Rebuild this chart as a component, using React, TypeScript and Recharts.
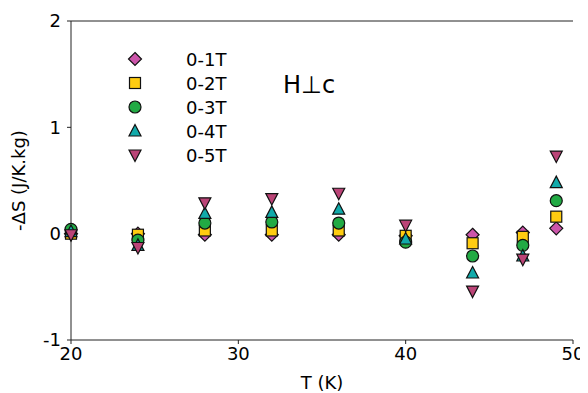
import React from 'react';
import { ScatterChart, Scatter, XAxis, YAxis, ReferenceLine } from 'recharts';

const temps = [20, 24, 28, 32, 36, 40, 44, 47, 49];
const s01 = [0.0, 0.0, -0.01, -0.01, -0.01, -0.02, -0.01, 0.01, 0.05];
const s02 = [0.0, -0.01, 0.03, 0.03, 0.03, -0.02, -0.09, -0.03, 0.16];
const s03 = [0.04, -0.06, 0.1, 0.11, 0.1, -0.08, -0.21, -0.11, 0.31];
const s04 = [0.02, -0.11, 0.19, 0.2, 0.23, -0.05, -0.37, -0.21, 0.48];
const s05 = [-0.01, -0.13, 0.29, 0.33, 0.38, 0.08, -0.54, -0.24, 0.73];
const xTicks = [20, 30, 40, 50];
const yTicks = [-1, 0, 1, 2];

const series = [
  { name: '0-1T', values: s01, kind: 'diamond', color: '#cc55aa' },
  { name: '0-2T', values: s02, kind: 'square', color: '#ffcc11' },
  { name: '0-3T', values: s03, kind: 'circle', color: '#22aa44' },
  { name: '0-4T', values: s04, kind: 'up', color: '#11aaaa' },
  { name: '0-5T', values: s05, kind: 'down', color: '#bb4477' },
];

const font = '"DejaVu Sans", sans-serif';

function Marker({ kind, x, y, fill }: { kind: string; x: number; y: number; fill: string }) {
  const common = { fill, stroke: '#111', strokeWidth: 1.2 };
  if (kind === 'diamond') {
    const r = 6.5;
    return <polygon points={`${x},${y - r} ${x + r},${y} ${x},${y + r} ${x - r},${y}`} {...common} />;
  }
  if (kind === 'square') {
    return <rect x={x - 5.5} y={y - 5.5} width={11} height={11} {...common} />;
  }
  if (kind === 'circle') {
    return <circle cx={x} cy={y} r={6} {...common} />;
  }
  if (kind === 'up') {
    return <polygon points={`${x},${y - 6.5} ${x + 6},${y + 5} ${x - 6},${y + 5}`} {...common} />;
  }
  return <polygon points={`${x},${y + 6.5} ${x + 6},${y - 5} ${x - 6},${y - 5}`} {...common} />;
}

const makeShape = (kind: string, color: string) => (props: any) =>
  <Marker kind={kind} x={props.cx} y={props.cy} fill={color} />;

// legend drawn by hand, matplotlib style (no frame)
function LegendBox() {
  return <g>
      {series.map((s, i) => <g key={s.name}>
          <Marker kind={s.kind} x={127} y={51 + i * 24} fill={s.color} />
          <text x={178} y={51 + i * 24} dominantBaseline="central" fontSize={18} fontFamily={font} fill="#000">{s.name}</text>
        </g>)}
    </g>;
}

export default function App() {
  return <ScatterChart width={580} height={385} margin={{
    top: 13,
    right: 15,
    left: 0,
    bottom: 0
  }} style={{ fontFamily: font }}>
      <XAxis type="number" dataKey="x" domain={[20, 50]} ticks={xTicks} height={53} stroke="#222" tickSize={4} tickMargin={3} tick={{
      fill: '#000',
      fontSize: 18
    }} label={{
      value: 'T (K)',
      position: 'insideBottom',
      offset: 4,
      fill: '#000',
      fontSize: 18
    }} />
      <YAxis type="number" dataKey="y" domain={[-1, 2]} ticks={yTicks} width={63} stroke="#222" tickSize={4} tickMargin={6} tick={{
      fill: '#000',
      fontSize: 18
    }} label={{
      value: '-ΔS (J/K.kg)',
      angle: -90,
      position: 'insideLeft',
      offset: 11,
      fill: '#000',
      fontSize: 18,
      style: { textAnchor: 'middle' }
    }} />
      <YAxis yAxisId="right" orientation="right" type="number" dataKey="y" domain={[-1, 2]} ticks={yTicks} width={0} stroke="#222" mirror tick={false} tickSize={4} />
      <ReferenceLine y={2} stroke="#222" />
      <LegendBox />
      <text x={275} y={77} dominantBaseline="central" fontSize={24} fontFamily={font} fill="#000">H⊥c</text>
      {series.map(s => <Scatter key={s.name} name={s.name} data={temps.map((t, i) => ({
      x: t,
      y: s.values[i]
    }))} shape={makeShape(s.kind, s.color)} isAnimationActive={false} />)}
    </ScatterChart>;
}
